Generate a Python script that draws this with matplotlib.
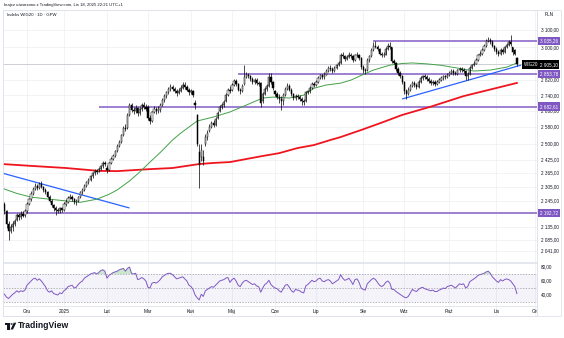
import numpy as np
import pandas as pd
import matplotlib
matplotlib.use("Agg")
import matplotlib.pyplot as plt
from matplotlib.patches import Rectangle, Polygon, Circle
from matplotlib.transforms import blended_transform_factory

plt.rcParams['font.family'] = ['Liberation Sans', 'DejaVu Sans']

# ---------------- data ----------------
title_text = "krajcz utworzono z TradingView.com, Lis 18, 2025 22:21 UTC+1"
legend_text = "Indeks WIG20 · 1D · GPW"
symbol = "WIG20"
currency = "PLN"
start_date = "2024-11-14"
end_axis_date = "2025-12-31"
holidays = ["2024-11-11", "2024-12-24", "2024-12-25", "2024-12-26", "2024-12-31",
            "2025-01-01", "2025-01-06", "2025-04-18", "2025-04-21", "2025-05-01",
            "2025-06-19", "2025-08-15", "2025-11-11", "2025-12-24", "2025-12-25",
            "2025-12-26"]
month_names = ["Sty", "Lut", "Mar", "Kwi", "Maj", "Cze", "Lip", "Sie", "Wrz", "Paź", "Lis", "Gru"]

opens = [2215, 2230, 2200, 2150, 2120, 2135, 2150, 2165, 2185, 2178, 2190, 2185,
         2200, 2230, 2250, 2275, 2295, 2310, 2300, 2315, 2305, 2290, 2280, 2262, 2245, 2225, 2212, 2205, 2200, 2212,
         2205, 2230, 2240, 2258, 2262, 2250, 2238, 2245, 2260, 2280, 2292, 2310, 2325, 2335, 2350, 2365, 2375, 2372, 2385, 2395, 2412,
         2390, 2380, 2410, 2430, 2445, 2465, 2490, 2510, 2540, 2575, 2575, 2640, 2690, 2665, 2660, 2675, 2650, 2668, 2690, 2682,
         2680, 2625, 2610, 2655, 2670, 2660, 2665, 2690, 2715, 2735, 2755, 2775, 2785, 2775, 2760, 2750, 2765, 2780, 2795, 2785, 2770,
         2755, 2765, 2700, 2640, 2460, 2440, 2440, 2500, 2530, 2560, 2580, 2600, 2590, 2625, 2660, 2680, 2690, 2710, 2740, 2770,
         2770, 2795, 2815, 2800, 2770, 2760, 2800, 2835, 2850, 2840, 2825, 2810, 2820, 2805, 2805, 2710, 2745, 2775, 2790, 2835, 2810,
         2760, 2745, 2730, 2720, 2710, 2740, 2775, 2790, 2770, 2745, 2725, 2735, 2730, 2720, 2712, 2710, 2755, 2760, 2780, 2800,
         2795, 2810, 2830, 2845, 2835, 2850, 2870, 2885, 2880, 2870, 2885, 2900, 2915, 2960, 2950, 2935, 2945, 2960, 2950, 2930, 2955, 2960, 2940,
         2890, 2875, 2875, 2930, 2950, 2985, 3010, 3005, 2990, 2965, 2955, 2960, 2990, 3010, 3000, 2925, 2915, 2880, 2860, 2840,
         2810, 2760, 2745, 2770, 2790, 2805, 2795, 2785, 2810, 2830, 2840, 2835, 2825, 2815, 2805, 2810, 2800, 2810, 2820, 2830, 2840, 2835,
         2845, 2860, 2870, 2860, 2855, 2872, 2880, 2875, 2868, 2840, 2855, 2885, 2900, 2910, 2930, 2955, 2965, 2985, 3010, 3035, 3045, 3030, 3010,
         2990, 2975, 2965, 2985, 2975, 3000, 3015, 3030, 3000, 2985, 2940]
highs = [2245, 2240, 2205, 2160, 2150, 2160, 2170, 2195, 2192, 2200, 2200, 2208,
         2238, 2258, 2285, 2305, 2320, 2318, 2325, 2328, 2310, 2298, 2288, 2268, 2252, 2232, 2222, 2215, 2220, 2220,
         2238, 2250, 2265, 2272, 2268, 2255, 2252, 2265, 2285, 2300, 2318, 2332, 2342, 2358, 2372, 2382, 2385, 2392, 2402, 2420, 2422,
         2400, 2415, 2438, 2452, 2472, 2498, 2518, 2548, 2585, 2595, 2650, 2700, 2702, 2680, 2688, 2682, 2678, 2700, 2705, 2695,
         2690, 2640, 2662, 2685, 2680, 2685, 2700, 2725, 2745, 2765, 2785, 2800, 2795, 2785, 2772, 2780, 2795, 2812, 2810, 2795, 2780,
         2775, 2770, 2715, 2645, 2500, 2500, 2470, 2545, 2565, 2595, 2612, 2615, 2630, 2660, 2690, 2702, 2715, 2750, 2780, 2790,
         2805, 2825, 2828, 2805, 2780, 2800, 2900, 2862, 2860, 2850, 2835, 2832, 2830, 2815, 2812, 2755, 2785, 2800, 2860, 2858, 2815,
         2770, 2758, 2745, 2735, 2750, 2785, 2805, 2800, 2778, 2752, 2745, 2745, 2740, 2730, 2722, 2765, 2770, 2790, 2810, 2812,
         2822, 2840, 2855, 2855, 2862, 2880, 2895, 2900, 2892, 2895, 2910, 2925, 2970, 2975, 2960, 2958, 2972, 2970, 2958, 2965, 2972, 2965, 2945,
         2900, 2885, 2940, 2960, 2995, 3030, 3035, 3015, 2998, 2975, 2972, 3000, 3025, 3030, 3005, 2935, 2920, 2890, 2870, 2848,
         2815, 2775, 2785, 2800, 2815, 2815, 2805, 2822, 2842, 2850, 2855, 2845, 2835, 2825, 2820, 2818, 2822, 2832, 2842, 2850, 2850, 2858,
         2870, 2880, 2882, 2870, 2882, 2890, 2892, 2885, 2872, 2865, 2895, 2910, 2922, 2940, 2965, 2978, 2995, 3022, 3048, 3062, 3055, 3040, 3015,
         3000, 2985, 2995, 2998, 3010, 3025, 3045, 3070, 3005, 2990, 2945]
lows = [2200, 2190, 2130, 2084, 2110, 2120, 2140, 2160, 2165, 2170, 2175, 2178,
        2195, 2225, 2245, 2270, 2290, 2292, 2295, 2298, 2282, 2272, 2255, 2238, 2218, 2200, 2185, 2192, 2195, 2198,
        2200, 2222, 2235, 2250, 2242, 2230, 2228, 2240, 2255, 2275, 2288, 2305, 2318, 2330, 2345, 2358, 2362, 2368, 2380, 2390, 2395,
        2365, 2376, 2405, 2425, 2440, 2460, 2485, 2505, 2535, 2560, 2570, 2635, 2655, 2645, 2650, 2635, 2640, 2660, 2672, 2660,
        2615, 2595, 2605, 2648, 2645, 2650, 2655, 2685, 2705, 2728, 2748, 2765, 2760, 2750, 2738, 2745, 2758, 2775, 2775, 2760, 2740,
        2745, 2730, 2670, 2490, 2300, 2420, 2400, 2490, 2520, 2555, 2575, 2580, 2585, 2620, 2655, 2670, 2682, 2705, 2735, 2750,
        2765, 2790, 2790, 2760, 2745, 2755, 2795, 2830, 2830, 2815, 2800, 2800, 2795, 2790, 2680, 2700, 2740, 2765, 2785, 2800, 2770,
        2735, 2720, 2700, 2665, 2690, 2735, 2768, 2760, 2735, 2715, 2715, 2720, 2710, 2690, 2688, 2705, 2745, 2752, 2775, 2785,
        2790, 2805, 2825, 2825, 2828, 2845, 2865, 2868, 2860, 2862, 2878, 2895, 2910, 2940, 2925, 2930, 2938, 2940, 2920, 2925, 2945, 2930, 2880,
        2860, 2855, 2870, 2920, 2945, 2980, 2995, 2980, 2955, 2945, 2945, 2955, 2985, 2990, 2915, 2905, 2870, 2845, 2830, 2800,
        2745, 2722, 2740, 2765, 2785, 2785, 2775, 2780, 2805, 2822, 2825, 2815, 2805, 2795, 2795, 2790, 2795, 2805, 2815, 2822, 2825, 2830,
        2840, 2852, 2850, 2845, 2850, 2865, 2865, 2858, 2820, 2822, 2850, 2880, 2895, 2905, 2925, 2950, 2960, 2980, 3005, 3030, 3020, 3000, 2980,
        2965, 2950, 2958, 2965, 2970, 2995, 3010, 3010, 2960, 2955, 2895]
closes = [2230, 2200, 2150, 2120, 2135, 2150, 2160, 2185, 2175, 2190, 2182, 2200,
          2230, 2250, 2275, 2295, 2310, 2300, 2315, 2305, 2290, 2280, 2262, 2245, 2225, 2212, 2205, 2200, 2212, 2205,
          2230, 2240, 2258, 2262, 2250, 2238, 2245, 2260, 2280, 2292, 2310, 2325, 2335, 2350, 2365, 2375, 2372, 2385, 2395, 2412, 2405,
          2380, 2410, 2430, 2445, 2465, 2490, 2510, 2540, 2575, 2570, 2640, 2690, 2665, 2660, 2675, 2650, 2668, 2690, 2682, 2670,
          2625, 2610, 2655, 2670, 2660, 2672, 2690, 2715, 2735, 2755, 2775, 2785, 2775, 2760, 2750, 2765, 2780, 2795, 2785, 2770, 2755,
          2765, 2740, 2690, 2500, 2400, 2470, 2420, 2530, 2550, 2580, 2600, 2590, 2620, 2650, 2680, 2690, 2705, 2740, 2770, 2760,
          2795, 2815, 2800, 2770, 2760, 2790, 2835, 2850, 2840, 2825, 2810, 2820, 2805, 2800, 2700, 2745, 2775, 2790, 2835, 2810, 2780,
          2745, 2730, 2720, 2710, 2740, 2775, 2790, 2770, 2745, 2725, 2735, 2730, 2720, 2712, 2705, 2755, 2760, 2780, 2800, 2795,
          2810, 2830, 2845, 2835, 2850, 2870, 2885, 2880, 2870, 2885, 2900, 2915, 2960, 2950, 2935, 2945, 2960, 2950, 2930, 2955, 2960, 2940, 2890,
          2875, 2870, 2930, 2950, 2985, 3010, 3005, 2990, 2965, 2955, 2960, 2990, 3010, 3000, 2925, 2915, 2880, 2860, 2840, 2810,
          2760, 2745, 2770, 2790, 2805, 2795, 2785, 2810, 2830, 2840, 2835, 2825, 2815, 2805, 2810, 2800, 2810, 2820, 2830, 2840, 2835, 2845,
          2860, 2870, 2860, 2855, 2872, 2880, 2875, 2868, 2840, 2855, 2885, 2900, 2910, 2930, 2955, 2965, 2985, 3010, 3035, 3045, 3030, 3010, 2990,
          2975, 2965, 2985, 2975, 3000, 3015, 3030, 3020, 2975, 2965, 2905.10]

rsi = [43, 41, 37, 35, 38, 41, 43, 46, 44, 46, 45, 47,
       54, 57, 60, 63, 64, 61, 63, 60, 56, 52, 46, 44, 46, 42, 41, 40, 43, 42,
       46, 48, 52, 53, 54, 50, 51, 55, 58, 60, 64, 66, 68, 70, 71, 72, 70, 72, 75, 76, 74,
       64, 68, 70, 72, 73, 74, 76, 77, 78, 74, 78, 80, 71, 70, 71, 62, 63, 65, 63, 60,
       51, 50, 57, 58, 57, 59, 62, 66, 68, 70, 71, 71, 69, 66, 63, 64, 65, 66, 63, 60, 54,
       52, 48, 40, 36, 33, 41, 38, 46, 48, 50, 52, 51, 54, 57, 60, 61, 62, 64, 65, 58,
       62, 64, 60, 54, 52, 57, 60, 61, 59, 57, 55, 56, 53, 52, 44, 50, 55, 57, 61, 55, 52,
       50, 49, 46, 44, 49, 54, 55, 51, 46, 44, 48, 47, 46, 44, 43, 53, 55, 58, 61, 59,
       60, 63, 64, 60, 59, 61, 62, 60, 56, 58, 60, 62, 69, 64, 61, 62, 64, 60, 55, 62, 63, 58, 50,
       48, 47, 56, 59, 62, 64, 62, 58, 54, 52, 54, 58, 60, 57, 48, 48, 45, 43, 41, 39,
       37, 36, 38, 43, 48, 46, 45, 48, 50, 51, 49, 48, 47, 46, 47, 45, 45, 47, 48, 50, 49, 52,
       53, 54, 52, 50, 53, 56, 55, 56, 50, 52, 59, 61, 63, 65, 68, 69, 70, 71, 73, 74, 71, 66, 63,
       60, 58, 62, 60, 62, 63, 62, 60, 56, 52, 42]

# moving averages (bar number, value)
sma50_bar = [0, 7, 14, 23, 31, 38, 46, 52, 56, 62, 67, 72, 77, 83, 87, 95, 103, 111, 119, 127,
             132, 140, 147, 152, 158, 165, 170, 176, 181, 189, 195, 200, 207, 214, 222, 230, 238, 246, 251]
sma50_val = [2298, 2276, 2260, 2251, 2244, 2238, 2251, 2272, 2291, 2330, 2370, 2415, 2459, 2518, 2551,
             2610, 2630, 2655, 2690, 2726, 2731, 2726, 2741, 2777, 2794, 2804, 2820, 2850, 2874, 2901,
             2910, 2913, 2908, 2900, 2885, 2869, 2874, 2890, 2913]
sma200_bar = [0, 15, 31, 47, 56, 72, 83, 96, 103, 111, 119, 127, 135, 144, 152, 160, 165, 175,
              185, 195, 209, 225, 233, 251]
sma200_val = [2406, 2397, 2388, 2375, 2374, 2383, 2388, 2406, 2411, 2415, 2429, 2443, 2456, 2480,
              2494, 2518, 2532, 2566, 2602, 2640, 2682, 2736, 2757, 2805]

# drawn levels (price, first bar) and trend lines (bar, price)
levels = [3035.26, 2853.78, 2682.61, 2192.72]
level_start_bar = [181, 115, 47, 0]
trend1_bar = [0, 62]
trend1_val = [2365, 2214]
trend2_bar = [195, 253]
trend2_val = [2721, 2901]

price_ticks = [3100, 3000, 2820, 2740, 2660, 2580, 2500, 2425, 2365, 2305, 2245, 2135, 2085, 2041]
rsi_ticks = [80, 60, 40]
rsi_levels = [70, 50, 30]

# ---------------- layout ----------------
W, H = 564, 338
fig = plt.figure(figsize=(W / 100, H / 100), dpi=100)
fig.patch.set_facecolor("white")


def box(x0, y0, x1, y1):
    return [x0 / W, 1 - y1 / H, (x1 - x0) / W, (y1 - y0) / H]


def fx(px):
    return px / W


def fy(py):
    return 1 - py / H


ax = fig.add_axes(box(3, 10, 537, 262))
axr = fig.add_axes(box(3, 263, 537, 306))
axt = fig.add_axes(box(3, 306, 537, 316))

XL = (0.29, 260.8)
grid_c = "#f0f1f4"
border_c = "#e0e3eb"
text_c = "#131722"
purple = "#7e57c2"

dates = pd.bdate_range(start_date, end_axis_date, freq="C", holidays=holidays)
n = len(closes)
xs = np.arange(n)

# month ticks
mt_idx, mt_lab = [], []
prev = None
for i, d in enumerate(dates):
    key = (d.year, d.month)
    if key != prev:
        if prev is not None:
            mt_idx.append(i)
            mt_lab.append(str(d.year) if d.month == 1 else month_names[d.month - 1])
        prev = key

for a in (ax, axr, axt):
    a.set_xlim(*XL)
    a.set_xticks([])
    a.set_yticks([])
    a.set_facecolor("white")
    for s in a.spines.values():
        s.set_color(border_c)
        s.set_linewidth(0.6)
    for m in mt_idx:
        a.axvline(m, color=grid_c, lw=0.6, zorder=0)

# ---------------- main pane ----------------
ax.set_yscale("log")
ax.set_ylim(1999, 3220)
ax.minorticks_off()
ax.set_yticks([])
ax.yaxis.set_minor_locator(matplotlib.ticker.NullLocator())
for p in price_ticks:
    ax.axhline(p, color=grid_c, lw=0.6, zorder=0)

# last price line
ax.axhline(closes[-1], color="#c5c8cf", lw=0.6, zorder=1)

# levels
for lv, sb in zip(levels, level_start_bar):
    ax.hlines(lv, sb, XL[1], color="#9575cd", lw=1.3, zorder=2)

# trend lines
ax.plot(trend1_bar, trend1_val, color="#2962ff", lw=0.9, zorder=3, solid_capstyle="butt")
ax.plot(trend2_bar, trend2_val, color="#2962ff", lw=0.9, zorder=3, solid_capstyle="butt")

# moving averages
ax.plot(sma200_bar, sma200_val, color="#f0141e", lw=1.3, zorder=4)
ax.plot(sma50_bar, sma50_val, color="#43a047", lw=0.7, zorder=4)

# candles
o = np.array(opens, float)
h = np.array(highs, float)
l = np.array(lows, float)
c = np.array(closes, float)
ax.vlines(xs, l, h, color="black", lw=0.5, zorder=5)
up = c >= o
bot = np.minimum(o, c)
hgt = np.maximum(np.abs(c - o), 1.5)
ax.bar(xs[up], hgt[up], bottom=bot[up], width=0.6, color="white", edgecolor="black", linewidth=0.35, zorder=6)
ax.bar(xs[~up], hgt[~up], bottom=bot[~up], width=0.6, color="black", edgecolor="black", linewidth=0.35, zorder=6)

# ---------------- RSI pane ----------------
r = np.array(rsi, float)
axr.set_ylim(24.3, 85.7)
axr.axhspan(30, 70, color=purple, alpha=0.07, lw=0, zorder=0)
for lv in rsi_levels:
    axr.axhline(lv, color="#9598a1", lw=0.5, ls=(0, (2, 2)), zorder=1)
axr.fill_between(xs, 70, r, where=r > 70, interpolate=True, color="#66bb6a", alpha=0.35, lw=0, zorder=2)
axr.plot(xs, r, color=purple, lw=0.7, zorder=3)

# ---------------- texts ----------------
fs_axis = 3.3


def fmt(v):
    return f"{v:,.2f}".replace(",", " ").replace(".", ",")


tr_main = blended_transform_factory(fig.transFigure, ax.transData)
tr_rsi = blended_transform_factory(fig.transFigure, axr.transData)
for p in price_ticks:
    fig.text(fx(541), p, fmt(p), transform=tr_main, fontsize=fs_axis, color=text_c,
             va="center", ha="left", zorder=1)
for v in rsi_ticks:
    fig.text(fx(541), v, fmt(v), transform=tr_rsi, fontsize=fs_axis, color=text_c,
             va="center", ha="left")

for lv in levels:
    fig.text(fx(540), lv, fmt(lv), transform=tr_main, fontsize=fs_axis, color="white",
             va="center", ha="left", zorder=5,
             bbox=dict(boxstyle="square,pad=0.35", fc=purple, ec="none"))

fig.text(fx(540), closes[-1], fmt(closes[-1]), transform=tr_main, fontsize=fs_axis, color="white",
         va="center", ha="left", zorder=5,
         bbox=dict(boxstyle="square,pad=0.35", fc="black", ec="none"))
fig.text(fx(524), closes[-1], symbol, transform=tr_main, fontsize=fs_axis, color="white",
         va="center", ha="left", zorder=5,
         bbox=dict(boxstyle="square,pad=0.35", fc="black", ec="none"))

fig.text(fx(545), fy(15), currency, fontsize=fs_axis, color=text_c, va="center", ha="left")
fig.text(fx(4), fy(5), title_text, fontsize=3.1, color=text_c, va="center", ha="left")
ax.text(fx(7), fy(15.5), legend_text, transform=fig.transFigure, fontsize=3.1, color=text_c,
        va="center", ha="left")

for m, lab in zip(mt_idx, mt_lab):
    axt.text(m, 0.33, lab, fontsize=3.5, color=text_c, ha="center", va="baseline",
             transform=blended_transform_factory(axt.transData, axt.transAxes), clip_on=True)

# outer border
fig.add_artist(Rectangle((fx(3), fy(316)), fx(561) - fx(3), fy(10) - fy(316),
                         transform=fig.transFigure, fill=False, ec=border_c, lw=0.6))
fig.add_artist(matplotlib.lines.Line2D([fx(537), fx(537)], [fy(316), fy(10)],
                                       transform=fig.transFigure, color=border_c, lw=0.6))

# TradingView logo
fig.add_artist(Rectangle((fx(4.5), fy(325)), fx(5.5), fy(0) - fy(2.3), transform=fig.transFigure,
                         fc=text_c, ec="none"))
fig.add_artist(Rectangle((fx(7.3), fy(329.5)), fx(2.5), fy(0) - fy(6.8), transform=fig.transFigure,
                         fc=text_c, ec="none"))
fig.add_artist(Circle((fx(11.6), fy(324)), 1.2 / W, transform=fig.transFigure, fc=text_c, ec="none"))
fig.add_artist(Polygon([(fx(10.5), fy(329.5)), (fx(13.8), fy(322.7)), (fx(16.3), fy(322.7)),
                        (fx(13.0), fy(329.5))], closed=True, transform=fig.transFigure,
                       fc=text_c, ec="none"))
fig.text(fx(17.5), fy(326), "TradingView", fontsize=6.2, fontweight="bold", color=text_c,
         va="center", ha="left")

fig.savefig("out.png", dpi=100, facecolor="white")
